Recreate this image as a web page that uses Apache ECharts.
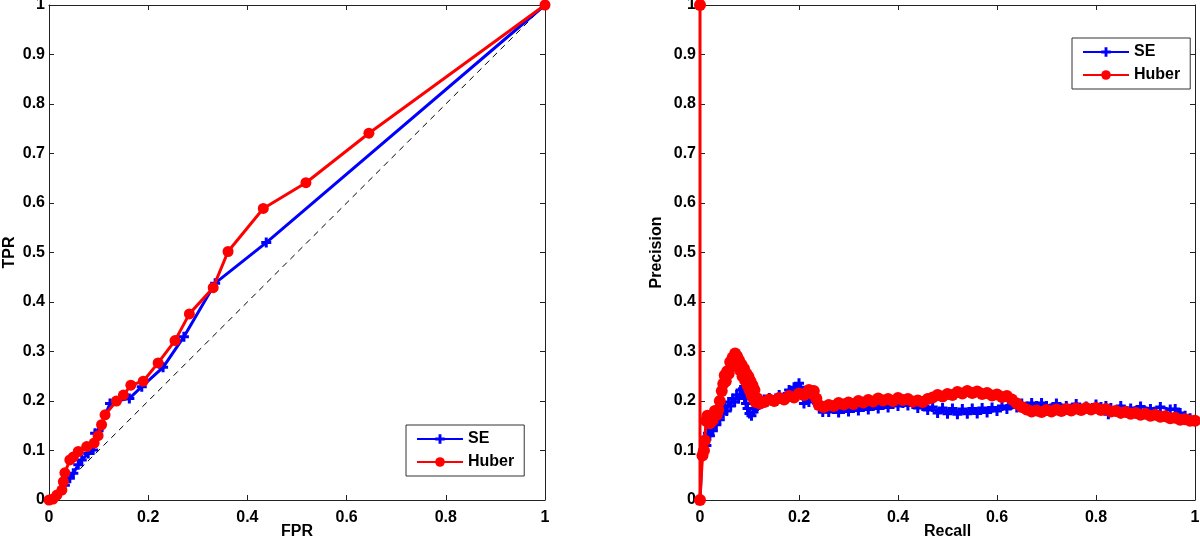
<!DOCTYPE html>
<html>
<head>
<meta charset="utf-8">
<script src="https://cdn.jsdelivr.net/npm/echarts@6/dist/echarts.min.js"></script>
<style>html,body{margin:0;padding:0;background:#fff}#c{width:1200px;height:539px}</style>
</head>
<body>
<div id="c"></div>
<script>
// ROC curves (FPR, TPR)
const rocSE = [[0,0],[0.01,0.005],[0.02,0.015],[0.032,0.03],[0.042,0.044],[0.049,0.054],[0.059,0.071],[0.066,0.081],[0.079,0.094],[0.089,0.101],[0.093,0.135],[0.1,0.14],[0.123,0.195],[0.135,0.2],[0.162,0.205],[0.187,0.229],[0.23,0.268],[0.272,0.330],[0.335,0.438],[0.438,0.520],[1,1]];
const rocHuber = [[0,0],[0.008,0.002],[0.016,0.01],[0.026,0.02],[0.029,0.037],[0.032,0.055],[0.042,0.081],[0.049,0.087],[0.059,0.098],[0.076,0.108],[0.091,0.115],[0.099,0.13],[0.106,0.152],[0.113,0.172],[0.136,0.2],[0.150,0.212],[0.165,0.232],[0.19,0.24],[0.22,0.277],[0.254,0.322],[0.283,0.376],[0.331,0.429],[0.361,0.502],[0.432,0.589],[0.518,0.641],[0.645,0.741],[1,1]];
const rocChance = [[0,0],[1,1]];

// Precision-recall curves (Recall, Precision)
const prSE = [[0,0],[0.004,0.09],[0.007,0.1],[0.01,0.12],[0.013,0.11],[0.016,0.135],[0.02,0.13],[0.023,0.148],[0.026,0.14],[0.03,0.16],[0.033,0.152],[0.036,0.17],[0.04,0.162],[0.044,0.185],[0.047,0.175],[0.05,0.19],[0.054,0.18],[0.058,0.198],[0.062,0.19],[0.066,0.205],[0.07,0.198],[0.074,0.212],[0.078,0.205],[0.082,0.222],[0.085,0.212],[0.087,0.225],[0.09,0.205],[0.093,0.195],[0.096,0.185],[0.1,0.175],[0.104,0.17],[0.108,0.178],[0.112,0.185],[0.116,0.19],[0.12,0.2],[0.125,0.195],[0.13,0.203],[0.135,0.198],[0.14,0.206],[0.15,0.202],[0.16,0.212],[0.17,0.208],[0.18,0.222],[0.185,0.218],[0.19,0.228],[0.195,0.225],[0.2,0.236],[0.203,0.228],[0.206,0.215],[0.21,0.195],[0.215,0.205],[0.22,0.198],[0.226,0.207],[0.232,0.2],[0.237,0.195],[0.242,0.185],[0.248,0.178],[0.255,0.185],[0.26,0.178],[0.27,0.184],[0.28,0.177],[0.29,0.184],[0.3,0.179],[0.31,0.186],[0.32,0.181],[0.33,0.188],[0.34,0.183],[0.35,0.19],[0.36,0.185],[0.37,0.192],[0.38,0.187],[0.39,0.194],[0.4,0.19],[0.41,0.196],[0.42,0.191],[0.43,0.194],[0.44,0.186],[0.45,0.19],[0.46,0.182],[0.47,0.188],[0.48,0.176],[0.49,0.186],[0.5,0.174],[0.51,0.185],[0.52,0.173],[0.53,0.184],[0.54,0.174],[0.55,0.185],[0.56,0.175],[0.57,0.186],[0.58,0.177],[0.59,0.187],[0.6,0.18],[0.61,0.19],[0.62,0.184],[0.63,0.193],[0.64,0.187],[0.65,0.195],[0.66,0.189],[0.67,0.196],[0.68,0.19],[0.69,0.196],[0.7,0.19],[0.72,0.195],[0.74,0.19],[0.76,0.194],[0.78,0.189],[0.8,0.193],[0.81,0.188],[0.82,0.19],[0.825,0.173],[0.83,0.186],[0.85,0.19],[0.87,0.185],[0.89,0.189],[0.91,0.184],[0.93,0.188],[0.95,0.183],[0.96,0.184],[0.97,0.176],[0.98,0.17],[0.99,0.165],[1,0.16]];
const prHuber = [[0,1],[0,0],[0.005,0.09],[0.008,0.1],[0.01,0.12],[0.012,0.16],[0.015,0.17],[0.02,0.155],[0.025,0.16],[0.03,0.18],[0.034,0.172],[0.037,0.182],[0.04,0.2],[0.044,0.22],[0.047,0.235],[0.05,0.252],[0.052,0.24],[0.055,0.26],[0.058,0.255],[0.061,0.279],[0.064,0.27],[0.066,0.288],[0.068,0.28],[0.071,0.296],[0.073,0.285],[0.075,0.29],[0.077,0.27],[0.079,0.282],[0.081,0.262],[0.084,0.273],[0.086,0.25],[0.089,0.265],[0.091,0.242],[0.094,0.255],[0.096,0.232],[0.098,0.249],[0.1,0.222],[0.102,0.24],[0.104,0.212],[0.106,0.232],[0.108,0.205],[0.11,0.222],[0.112,0.198],[0.116,0.205],[0.121,0.195],[0.13,0.198],[0.14,0.203],[0.15,0.2],[0.16,0.206],[0.17,0.203],[0.18,0.21],[0.19,0.207],[0.2,0.215],[0.21,0.212],[0.22,0.222],[0.225,0.215],[0.23,0.22],[0.235,0.205],[0.24,0.192],[0.25,0.188],[0.26,0.192],[0.27,0.19],[0.28,0.196],[0.29,0.193],[0.3,0.197],[0.31,0.194],[0.32,0.2],[0.33,0.197],[0.34,0.202],[0.35,0.199],[0.36,0.205],[0.37,0.201],[0.38,0.204],[0.39,0.2],[0.4,0.206],[0.41,0.202],[0.42,0.204],[0.43,0.199],[0.44,0.201],[0.45,0.198],[0.46,0.204],[0.47,0.207],[0.48,0.212],[0.49,0.209],[0.5,0.214],[0.51,0.212],[0.52,0.218],[0.53,0.215],[0.54,0.22],[0.55,0.216],[0.56,0.219],[0.57,0.214],[0.58,0.216],[0.59,0.211],[0.6,0.213],[0.61,0.208],[0.62,0.21],[0.63,0.203],[0.64,0.195],[0.65,0.188],[0.66,0.183],[0.67,0.179],[0.68,0.181],[0.69,0.178],[0.7,0.182],[0.71,0.179],[0.72,0.183],[0.73,0.18],[0.74,0.184],[0.75,0.181],[0.76,0.185],[0.77,0.182],[0.78,0.186],[0.79,0.183],[0.8,0.186],[0.81,0.182],[0.82,0.184],[0.83,0.179],[0.84,0.18],[0.85,0.176],[0.86,0.178],[0.87,0.174],[0.88,0.176],[0.89,0.172],[0.9,0.174],[0.91,0.17],[0.92,0.172],[0.93,0.168],[0.94,0.169],[0.95,0.165],[0.96,0.166],[0.97,0.162],[0.98,0.163],[0.99,0.16],[1,0.16]];

const seriesNames = ['SE', 'Huber'];
const axisTitles = {rocX: 'FPR', rocY: 'TPR', prX: 'Recall', prY: 'Precision'};

const FONT = '"Liberation Sans", Arial, Helvetica, sans-serif';
const AX = '#222';
const FS = 16;
const PLUS = 'path://M3.5,0 h3 v3.5 h3.5 v3 h-3.5 v3.5 h-3 v-3.5 h-3.5 v-3 h3.5 z';

function mainX(grid, name) {
  return {
    type: 'value', gridIndex: grid, min: 0, max: 1, interval: 0.2, position: 'bottom',
    name: name, nameLocation: 'middle', nameGap: 24, nameMoveOverlap: false,
    nameTextStyle: {fontFamily: FONT, fontWeight: 'bold', fontSize: FS, color: '#000'},
    axisLine: {show: true, onZero: false, lineStyle: {color: AX, width: 1}},
    axisTick: {show: true, inside: true, length: 5, lineStyle: {color: AX}},
    axisLabel: {fontFamily: FONT, fontWeight: 'bold', fontSize: FS, color: '#000', margin: 10},
    splitLine: {show: false}
  };
}
function mainY(grid, name, gap) {
  return {
    type: 'value', gridIndex: grid, min: 0, max: 1, interval: 0.1, position: 'left',
    name: name, nameLocation: 'middle', nameGap: gap, nameMoveOverlap: false,
    nameTextStyle: {fontFamily: FONT, fontWeight: 'bold', fontSize: FS, color: '#000'},
    axisLine: {show: true, onZero: false, lineStyle: {color: AX, width: 1}},
    axisTick: {show: true, inside: true, length: 5, lineStyle: {color: AX}},
    axisLabel: {fontFamily: FONT, fontWeight: 'bold', fontSize: FS, color: '#000', margin: 4},
    splitLine: {show: false}
  };
}
function boxX(grid) {
  return {
    type: 'value', gridIndex: grid, min: 0, max: 1, interval: 0.2, position: 'top',
    axisLine: {show: true, onZero: false, lineStyle: {color: AX, width: 1}},
    axisTick: {show: true, inside: true, length: 5, lineStyle: {color: AX}},
    axisLabel: {show: false}, splitLine: {show: false}
  };
}
function boxY(grid) {
  return {
    type: 'value', gridIndex: grid, min: 0, max: 1, interval: 0.1, position: 'right',
    axisLine: {show: true, onZero: false, lineStyle: {color: AX, width: 1}},
    axisTick: {show: true, inside: true, length: 5, lineStyle: {color: AX}},
    axisLabel: {show: false}, splitLine: {show: false}
  };
}
function legend(left, top) {
  return {
    data: seriesNames, orient: 'vertical', left: left, top: top,
    itemWidth: 46, itemHeight: 12, itemGap: 7,
    padding: [6, 10, 6, 10],
    borderColor: '#333', borderWidth: 1, backgroundColor: '#fff',
    textStyle: {fontFamily: FONT, fontWeight: 'bold', fontSize: FS, color: '#000'},
    selectedMode: false
  };
}

const chart = echarts.init(document.getElementById('c'), null, {renderer: 'canvas'});
chart.setOption({
  animation: false,
  backgroundColor: '#fff',
  grid: [
    {left: 49, top: 5, width: 496, height: 495, containLabel: false, outerBoundsMode: 'none'},
    {left: 700, top: 5, width: 495, height: 495, containLabel: false, outerBoundsMode: 'none'}
  ],
  legend: [legend(406, 425), legend(1072, 38)],
  xAxis: [mainX(0, axisTitles.rocX), boxX(0), mainX(1, axisTitles.prX), boxX(1)],
  yAxis: [mainY(0, axisTitles.rocY, 31), boxY(0), mainY(1, axisTitles.prY, 35), boxY(1)],
  series: [
    {type: 'line', name: 'chance', xAxisIndex: 0, yAxisIndex: 0, data: rocChance, symbol: 'none',
     lineStyle: {color: '#000', width: 1, type: [6, 5]}, z: 1},
    {type: 'line', name: seriesNames[0], xAxisIndex: 0, yAxisIndex: 0, data: rocSE,
     symbol: PLUS, symbolSize: 10, itemStyle: {color: '#0000ff'},
     lineStyle: {color: '#0000ff', width: 3}, z: 2},
    {type: 'line', name: seriesNames[1], xAxisIndex: 0, yAxisIndex: 0, data: rocHuber,
     symbol: 'circle', symbolSize: 11, itemStyle: {color: '#ff0000'},
     lineStyle: {color: '#ff0000', width: 3}, z: 3},
    {type: 'line', name: seriesNames[0], xAxisIndex: 2, yAxisIndex: 2, data: prSE,
     symbol: PLUS, symbolSize: 10, itemStyle: {color: '#0000ff'},
     lineStyle: {color: '#0000ff', width: 3}, z: 2},
    {type: 'line', name: seriesNames[1], xAxisIndex: 2, yAxisIndex: 2, data: prHuber,
     symbol: 'circle', symbolSize: 12, itemStyle: {color: '#ff0000'},
     lineStyle: {color: '#ff0000', width: 3}, z: 3}
  ]
});
</script>
</body>
</html>
